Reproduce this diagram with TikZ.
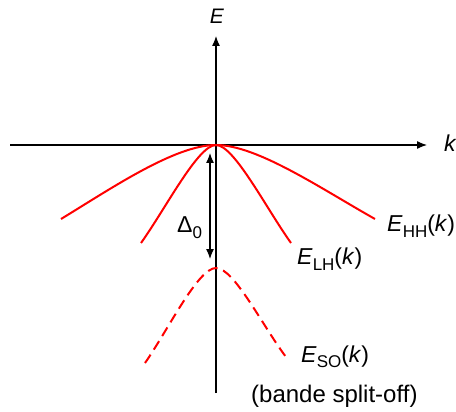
\documentclass[tikz,border=0pt]{standalone}
\usepackage{fontspec}
\setmainfont{Liberation Sans}
\usetikzlibrary{arrows.meta}
\tikzstyle{achse} = [draw, line width=1.2pt]
\tikzstyle{band} = [draw=red, line width=2pt]
\newcommand{\bandidx}[1]{\raisebox{-0.26em}{\fontsize{17}{17}\selectfont #1}}

\begin{document}
\begin{tikzpicture}[x=1pt, y=-1pt, >={Latex[length=10pt,width=8pt]},   %Pfeilspitzen
				lbl/.style={inner sep=0pt, anchor=base west, font=\fontsize{23}{26}\selectfont}]
				\useasboundingbox (0,0) rectangle (456,412);
				%Achsen
				\coordinate (O) at (216,145);
				\coordinate (kl) at (10,145);
				\coordinate (kr) at (427,145);
				\coordinate (Eu) at (216,393);
				\coordinate (Eo) at (216,36);
				\draw [achse,->] (kl) -- (kr);
				\draw [achse,->] (Eu) -- (Eo);
				\node (labE) [inner sep=0pt, anchor=base, font=\fontsize{21}{24}\selectfont] at (217,24) {\textit{E}};
				\node (labk) [inner sep=0pt, anchor=base west, font=\fontsize{23}{26}\selectfont] at (444,152) {\textit{k}};
				%Baender
				\coordinate (hhl) at (61,219);
				\coordinate (hhr) at (375,219);
				\coordinate (lhl) at (141,243);
				\coordinate (lhr) at (291,243);
				\coordinate (S) at (216,268);
				\coordinate (sol) at (145,363);
				\coordinate (sor) at (286,357);
				\draw [band] (hhl) .. controls (112,188) and (175,145) .. (O) .. controls (257,145) and (320,188) .. (hhr);
				\draw [band] (lhl) .. controls (166,208) and (198,145) .. (O) .. controls (234,145) and (266,208) .. (lhr);
				\draw [band, dash pattern=on 10pt off 6pt] (sol) .. controls (168,330) and (198,268) .. (S) .. controls (234,268) and (262,325) .. (sor);
				%Abstand
				\coordinate (Do) at (210,153);
				\coordinate (Du) at (210,259);
				\draw [achse,<->] (Do) -- (Du);
				\node (labD) [lbl] at (177,233) {Δ\bandidx{0}};
				\node (labHH) [lbl] at (387,232) {\textit{E}\bandidx{HH}(\textit{k})};
				\node (labLH) [lbl] at (297,265) {\textit{E}\bandidx{LH}(\textit{k})};
				\node (labSO) [lbl] at (301,362) {\textit{E}\bandidx{SO}(\textit{k})};
				\node (labSplit) [lbl, font=\fontsize{24}{28}\selectfont] at (251,402) {(bande split-off)};
			\end{tikzpicture}
\end{document}
